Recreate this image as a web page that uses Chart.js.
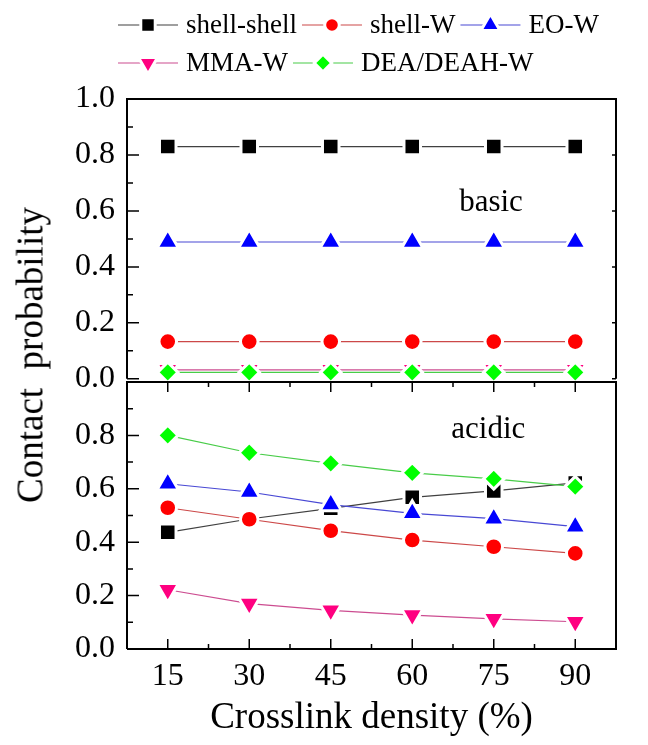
<!DOCTYPE html>
<html lang="en">
<head>
  <meta charset="UTF-8" />
  <title>Contact probability vs crosslink density</title>
  <script src="https://cdn.jsdelivr.net/npm/chart.js"></script>
  <style>
    body {
      margin: 0;
      padding: 0;
      background: #fff;
    }

    .figura {
      position: relative;
      width: 648px;
      height: 745px;
      font-family: 'Liberation Serif', serif;
      color: #000;
    }

    #grafTop { position: absolute; left: 0; top: 0; }
    #grafBot { position: absolute; left: 0; top: 340px; }

    .ytitulo {
      position: absolute;
      left: 30px;
      top: 355px;
      transform: translate(-50%, -50%) rotate(-90deg);
      font-size: 37px;
      white-space: pre;
    }
  </style>
</head>
<body>
  <div class="figura">
    <canvas id="grafTop" width="648" height="410"></canvas>
    <canvas id="grafBot" width="648" height="405"></canvas>
    <div class="ytitulo">Contact  probability</div>
  </div>

  <script>
    // datos
    const densidad = [15, 30, 45, 60, 75, 90];
    const nombres = ['shell-shell', 'shell-W', 'EO-W', 'MMA-W', 'DEA/DEAH-W'];

    const basicShellShell = [0.83, 0.83, 0.83, 0.83, 0.83, 0.83];
    const basicShellW     = [0.133, 0.133, 0.133, 0.133, 0.133, 0.133];
    const basicEOW        = [0.489, 0.489, 0.489, 0.489, 0.489, 0.489];
    const basicMMAW       = [0.032, 0.032, 0.032, 0.032, 0.032, 0.032];
    const basicDEAW       = [0.023, 0.023, 0.023, 0.023, 0.023, 0.023];

    const acidShellShell = [0.437, 0.487, 0.527, 0.568, 0.592, 0.622];
    const acidShellW     = [0.529, 0.486, 0.443, 0.408, 0.383, 0.358];
    const acidEOW        = [0.619, 0.588, 0.541, 0.508, 0.488, 0.458];
    const acidMMAW       = [0.222, 0.170, 0.145, 0.127, 0.113, 0.102];
    const acidDEAW       = [0.800, 0.735, 0.695, 0.660, 0.637, 0.608];

    const basicSeries = [basicShellShell, basicShellW, basicEOW, basicMMAW, basicDEAW];
    const acidSeries  = [acidShellShell, acidShellW, acidEOW, acidMMAW, acidDEAW];

    // estilos
    const estilos = [
      { linea: '#404040', relleno: '#000000', forma: 'rect',     radio: 11.7, rot: 0 },
      { linea: '#cc4848', relleno: '#ff0000', forma: 'circle',   radio: 8.8,  rot: 0 },
      { linea: '#4848d4', relleno: '#0000ff', forma: 'triangle', radio: 12.5, rot: 0 },
      { linea: '#cc4c90', relleno: '#ff0080', forma: 'triangle', radio: 12.5, rot: 180 },
      { linea: '#48cc48', relleno: '#00ff00', forma: 'rectRot',  radio: 10.2, rot: 0 }
    ];
    const fuente = 'Liberation Serif';

    function armarDatasets(series) {
      return series.map((valores, i) => ({
        label: nombres[i],
        data: densidad.map((d, j) => ({ x: d, y: valores[j] })),
        borderColor: estilos[i].linea,
        borderWidth: 1.2,
        pointStyle: estilos[i].forma,
        pointRotation: estilos[i].rot,
        pointRadius: estilos[i].radio,
        pointBackgroundColor: estilos[i].relleno,
        pointBorderColor: '#ffffff',
        pointBorderWidth: 3,
        order: 5 - i,
        clip: false
      }));
    }

    // marco con ticks hacia adentro
    const marco = {
      id: 'marco',
      afterDraw(chart, args, opts) {
        const { ctx, chartArea: a, scales: { x, y } } = chart;
        ctx.save();
        ctx.strokeStyle = '#000';
        ctx.lineWidth = 2;
        ctx.beginPath();
        ctx.moveTo(a.left, a.bottom);
        ctx.lineTo(a.left, a.top);
        ctx.lineTo(a.right, a.top);
        ctx.lineTo(a.right, a.bottom);
        if (opts.ticksX) ctx.lineTo(a.left, a.bottom);
        ctx.stroke();
        ctx.lineWidth = 1.5;
        ctx.beginPath();
        for (let k = 0; k <= 10; k++) {
          const py = y.getPixelForValue(k / 10);
          const largo = k % 2 === 0 ? 12 : 6;
          ctx.moveTo(a.left, py);
          ctx.lineTo(a.left + largo, py);
          if (opts.derecha && k % 2 === 0) {
            ctx.moveTo(a.right, py);
            ctx.lineTo(a.right - 4, py);
          }
        }
        if (opts.ticksX) {
          densidad.forEach((d, j) => {
            const px = x.getPixelForValue(d);
            ctx.moveTo(px, a.bottom); ctx.lineTo(px, a.bottom - 10);
            ctx.moveTo(px, a.top); ctx.lineTo(px, a.top + 10);
            if (j < densidad.length - 1) {
              const pm = x.getPixelForValue((d + densidad[j + 1]) / 2);
              ctx.moveTo(pm, a.bottom); ctx.lineTo(pm, a.bottom - 5);
              ctx.moveTo(pm, a.top); ctx.lineTo(pm, a.top + 5);
            }
          });
        }
        ctx.stroke();
        ctx.restore();
      }
    };

    // texto "basic" / "acidic"
    const rotulo = {
      id: 'rotulo',
      afterDraw(chart, args, opts) {
        const { ctx, scales: { x, y } } = chart;
        ctx.save();
        ctx.font = `31px "${fuente}"`;
        ctx.fillStyle = '#000';
        ctx.textAlign = 'center';
        ctx.textBaseline = 'middle';
        ctx.fillText(opts.texto, x.getPixelForValue(opts.x), y.getPixelForValue(opts.y));
        ctx.restore();
      }
    };

    function marcador(ctx, forma, r, rot, cx, cy, color) {
      ctx.save();
      ctx.translate(cx, cy);
      ctx.rotate(rot * Math.PI / 180);
      ctx.beginPath();
      if (forma === 'circle') {
        ctx.arc(0, 0, r, 0, Math.PI * 2);
      } else if (forma === 'rect') {
        const s = r * Math.SQRT1_2;
        ctx.rect(-s, -s, 2 * s, 2 * s);
      } else if (forma === 'triangle') {
        ctx.moveTo(0, -r);
        ctx.lineTo(r * 0.866, r / 2);
        ctx.lineTo(-r * 0.866, r / 2);
        ctx.closePath();
      } else {
        ctx.moveTo(0, -r); ctx.lineTo(r, 0); ctx.lineTo(0, r); ctx.lineTo(-r, 0);
        ctx.closePath();
      }
      ctx.fillStyle = color;
      ctx.fill();
      ctx.strokeStyle = '#fff';
      ctx.lineWidth = 3;
      ctx.stroke();
      ctx.restore();
    }

    // leyenda en dos filas
    const leyenda = {
      id: 'leyenda',
      afterDraw(chart) {
        const ctx = chart.ctx;
        const filas = [[0, 1, 2], [3, 4]];
        const yFila = [25, 63];
        ctx.save();
        ctx.font = `27px "${fuente}"`;
        ctx.textBaseline = 'middle';
        ctx.textAlign = 'left';
        filas.forEach((fila, f) => {
          let x0 = 118;
          const yy = yFila[f];
          fila.forEach(i => {
            const e = estilos[i];
            ctx.strokeStyle = e.linea;
            ctx.lineWidth = 1.2;
            ctx.beginPath();
            ctx.moveTo(x0, yy);
            ctx.lineTo(x0 + 60, yy);
            ctx.stroke();
            marcador(ctx, e.forma, e.radio - 1.5, e.rot, x0 + 30, yy, e.relleno);
            ctx.fillStyle = '#000';
            ctx.fillText(nombres[i], x0 + 68, yy + 1);
            x0 = x0 + 68 + ctx.measureText(nombres[i]).width + 5;
          });
        });
        ctx.restore();
      }
    };

    const ticksY = (ocultarMax) => ({
      stepSize: 0.2,
      padding: 12,
      color: '#000',
      font: { family: fuente, size: 32 },
      callback: v => (ocultarMax && v > 0.95) ? '' : v.toFixed(1)
    });

    new Chart(document.getElementById('grafTop'), {
      type: 'line',
      data: { datasets: armarDatasets(basicSeries) },
      options: {
        responsive: false,
        animation: false,
        layout: { padding: { left: 0, top: 99, right: 32, bottom: 28 } },
        plugins: {
          legend: { display: false },
          tooltip: { enabled: false },
          marco: { derecha: true, ticksX: false },
          rotulo: { texto: 'basic', x: 74.5, y: 0.63 }
        },
        scales: {
          x: { type: 'linear', min: 7.5, max: 97.5, display: false },
          y: {
            min: 0, max: 1,
            afterFit: s => { s.width = 127; },
            grid: { display: false, drawTicks: false },
            border: { display: false },
            ticks: ticksY(false)
          }
        }
      },
      plugins: [marco, rotulo, leyenda]
    });

    new Chart(document.getElementById('grafBot'), {
      type: 'line',
      data: { datasets: armarDatasets(acidSeries) },
      options: {
        responsive: false,
        animation: false,
        layout: { padding: { left: 0, top: 42, right: 32, bottom: 0 } },
        plugins: {
          legend: { display: false },
          tooltip: { enabled: false },
          marco: { derecha: false, ticksX: true },
          rotulo: { texto: 'acidic', x: 74, y: 0.82 }
        },
        scales: {
          x: {
            type: 'linear', min: 7.5, max: 97.5,
            afterFit: s => { s.height = 96; },
            afterBuildTicks: s => { s.ticks = densidad.map(v => ({ value: v })); },
            grid: { display: false, drawTicks: false },
            border: { display: false },
            ticks: {
              padding: 8,
              color: '#000',
              maxRotation: 0,
              font: { family: fuente, size: 32 },
              callback: v => String(v)
            },
            title: {
              display: true,
              text: 'Crosslink density (%)',
              color: '#000',
              font: { family: fuente, size: 37 },
              padding: { top: 0, bottom: 5 }
            }
          },
          y: {
            min: 0, max: 1,
            afterFit: s => { s.width = 127; },
            grid: { display: false, drawTicks: false },
            border: { display: false },
            ticks: ticksY(true)
          }
        }
      },
      plugins: [marco, rotulo]
    });
  </script>
</body>
</html>
